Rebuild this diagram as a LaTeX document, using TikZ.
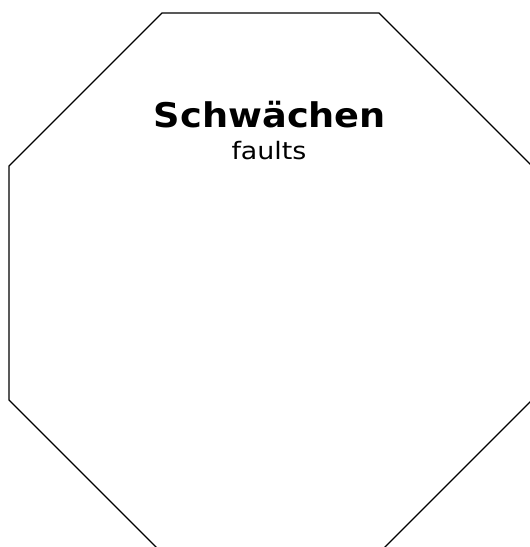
\documentclass[tikz,border=0pt]{standalone}
\usepackage{fontspec}
\setmainfont{DejaVu Sans}
\newfontfamily\headfont[FakeStretch=1.08]{DejaVu Sans Bold}
\newfontfamily\notefont[FakeStretch=1.12]{DejaVu Sans}
\usepackage{tikz}
\usetikzlibrary{positioning}

\begin{document}
\begin{tikzpicture}[
  x=1pt, y=-1pt,
  outline/.style={draw=black, line width=1.4pt, line join=miter},
  title/.style={font=\headfont\fontsize{34}{40}\selectfont, anchor=base, inner sep=0pt},
  subtitle/.style={font=\notefont\fontsize{24}{28}\selectfont, anchor=base, inner sep=0pt},
]
  \useasboundingbox (0,0) rectangle (530,547);
  % octagon, partly cut off at the right and bottom
  \draw[outline] (162,13) -- (379,13) -- (532,166) -- (532,400)
    -- (379,553) -- (162,553) -- (9,400) -- (9,166) -- cycle;

  \node[title] (heading) at (270,127) {Schwächen};
  \node[subtitle] (note) at (269,159) {faults};
\end{tikzpicture}
\end{document}
